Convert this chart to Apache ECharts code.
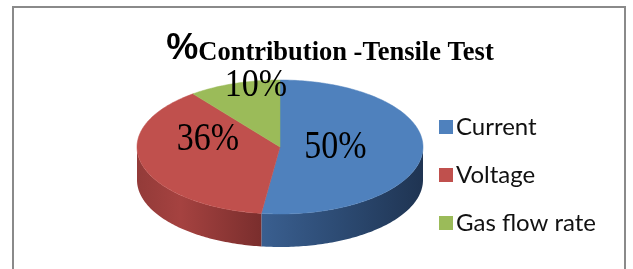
<!DOCTYPE html>
<html>
<head>
<meta charset="utf-8">
<script src="https://cdn.jsdelivr.net/npm/echarts@6/dist/echarts.min.js"></script>
<style>
html,body{margin:0;padding:0;background:#fff;}
#chart{width:633px;height:269px;}
</style>
</head>
<body>
<div id="chart"></div>
<script>
// ---- data ----
const categories = ['Current', 'Voltage', 'Gas flow rate'];
const values = [50, 36, 10];
const labelTexts = ['50%', '36%', '10%'];

// ---- styling / layout ----
const topColors = ['#4F81BD', '#C0504D', '#9BBB59'];
const wallStops = [
  [[0, '#3a5f90'], [0.5, '#2c4a72'], [1, '#1f3452']],
  [[0, '#933b39'], [0.35, '#a54240'], [1, '#7a2e2d']],
  [[0, '#7a9444'], [1, '#5d7233']]
];
const labelShift = [[-16, -2], [-3, -16], [-1, -30]];
const geo = { cx: 280, cy: 147, rx: 143, ry: 67, depth: 33 };

const total = values.reduce((a, b) => a + b, 0);
function sliceRange(i) {
  let s = 0;
  for (let k = 0; k < i; k++) s += values[k];
  return [s / total * 360, (s + values[i]) / total * 360];
}
function pt(deg, dy) {
  const r = deg * Math.PI / 180;
  return [geo.cx + geo.rx * Math.sin(r), geo.cy - geo.ry * Math.cos(r) + (dy || 0)];
}
function arcPts(a0, a1, dy) {
  const pts = [];
  const n = Math.max(2, Math.ceil((a1 - a0) / 1));
  for (let j = 0; j <= n; j++) pts.push(pt(a0 + (a1 - a0) * j / n, dy));
  return pts;
}

function makeRender(i) {
  return function (params, api) {
    const [a0, a1] = sliceRange(i);
    const children = [];
    const b0 = Math.max(a0, 90), b1 = Math.min(a1, 270);
    if (b1 > b0) {
      const top = arcPts(b0, b1, 0);
      const bot = arcPts(b0, b1, geo.depth).reverse();
      const xs = top.map(p => p[0]);
      const xmin = Math.min.apply(null, xs), xmax = Math.max.apply(null, xs);
      children.push({
        type: 'polygon',
        z2: 1,
        shape: { points: top.concat(bot) },
        style: {
          fill: new echarts.graphic.LinearGradient(xmin, 0, xmax, 0,
            wallStops[i].map(s => ({ offset: s[0], color: s[1] })), true),
          stroke: null
        }
      });
    }
    const face = [[geo.cx, geo.cy]].concat(arcPts(a0, a1, 0));
    children.push({
      type: 'polygon',
      z2: 2,
      shape: { points: face },
      style: { fill: topColors[i], stroke: topColors[i], lineWidth: 0.5 }
    });
    const mid = (a0 + a1) / 2 * Math.PI / 180;
    const lx = geo.cx + 0.5 * geo.rx * Math.sin(mid) + labelShift[i][0];
    const ly = geo.cy - 0.5 * geo.ry * Math.cos(mid) + labelShift[i][1];
    children.push({
      type: 'text',
      z2: 10,
      x: lx, y: ly,
      scaleY: 1.2,
      style: {
        text: labelTexts[i],
        fill: '#000',
        font: '34px "Liberation Serif", "Times New Roman", serif',
        align: 'center',
        verticalAlign: 'middle'
      }
    });
    return { type: 'group', children: children };
  };
}

const series = categories.map((name, i) => ({
  type: 'custom',
  name: name,
  coordinateSystem: 'none',
  z: i === 2 ? 3 : 2,
  itemStyle: { color: topColors[i] },
  data: [values[i]],
  renderItem: makeRender(i),
  silent: true,
  animation: false
}));

const chart = echarts.init(document.getElementById('chart'), null, { renderer: 'canvas' });
chart.setOption({
  backgroundColor: '#fff',
  animation: false,
  title: {
    text: '{p|%}{t|Contribution -Tensile Test}',
    left: 325,
    textAlign: 'center',
    top: 25,
    textStyle: {
      rich: {
        p: { fontFamily: '"Liberation Sans", Arial, sans-serif', fontWeight: 'bold', fontSize: 36, color: '#000', lineHeight: 37, verticalAlign: 'bottom' },
        t: { fontFamily: '"Liberation Serif", serif', fontWeight: 'bold', fontSize: 26.5, color: '#000', lineHeight: 37, verticalAlign: 'bottom' }
      }
    }
  },
  legend: {
    orient: 'vertical',
    left: 434,
    top: 110,
    icon: 'rect',
    itemWidth: 14,
    itemHeight: 14,
    itemGap: 24,
    selectedMode: false,
    data: categories,
    textStyle: { fontFamily: 'Lato', fontSize: 24, color: '#111', lineHeight: 24, padding: [0, 0, 0, -2] }
  },
  graphic: [{
    type: 'rect',
    shape: { x: 13, y: 7, width: 612, height: 300 },
    style: { fill: null, stroke: '#8a8a8a', lineWidth: 2 },
    silent: true,
    z: -1
  }],
  series: series
});
</script>
</body>
</html>
